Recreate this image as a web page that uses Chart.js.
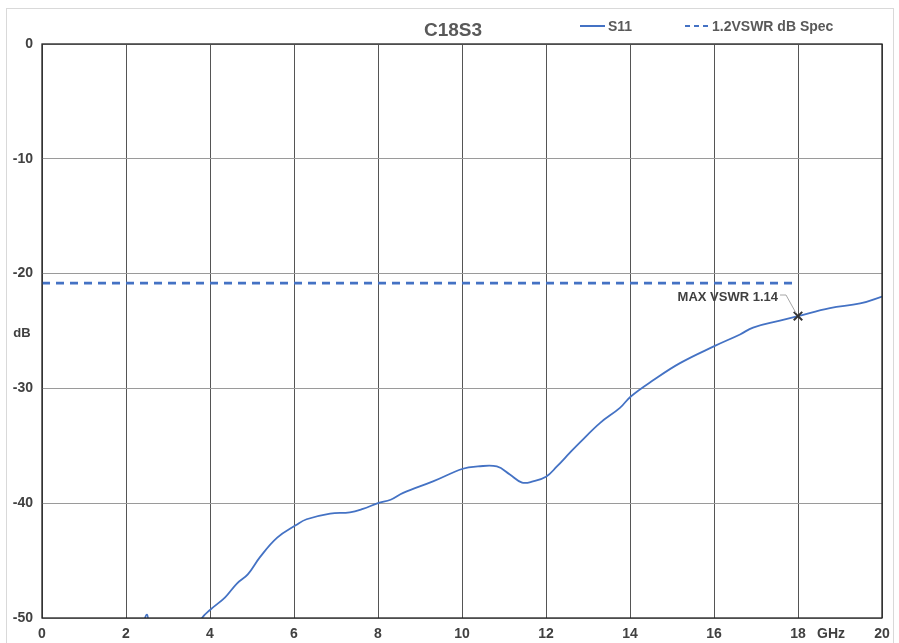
<!DOCTYPE html>
<html>
<head>
<meta charset="utf-8">
<script src="https://cdn.jsdelivr.net/npm/chart.js@4"></script>
<style>
html,body{margin:0;padding:0;background:#fff;}
#wrap{width:899px;height:643px;position:relative;}
</style>
</head>
<body>
<div id="wrap"><canvas id="c" width="899" height="643"></canvas></div>
<script>
const chartTitle = "C18S3";
const s11Freq = [2.35,2.5,2.65,3.6,3.81,4.0,4.36,4.64,4.9,5.19,5.6,6.05,6.3,6.86,7.33,7.64,8.0,8.3,8.6,9.31,10.02,10.38,10.83,11.14,11.43,11.69,12.0,12.26,12.57,12.81,13.29,13.76,14.02,14.55,15.19,16.02,16.62,16.93,17.57,18.0,18.76,19.48,20.0];
const s11Values = [-52,-49.7,-52,-51.5,-50,-49.3,-48.2,-47.0,-46.2,-44.7,-43.0,-41.9,-41.4,-40.9,-40.8,-40.5,-40.0,-39.7,-39.1,-38.1,-37.0,-36.8,-36.8,-37.5,-38.2,-38.1,-37.7,-36.8,-35.6,-34.7,-33.0,-31.7,-30.7,-29.3,-27.8,-26.3,-25.3,-24.7,-24.1,-23.7,-23.0,-22.6,-22.0];
const specFreq = [0, 18];
const specValues = [-20.83, -20.83];
const markerFreq = [18];
const markerValues = [-23.7];
const markerLabel = "MAX VSWR 1.14";
const xTicks = [0,2,4,6,8,10,12,14,16,18,20];
const yTicks = [0,-10,-20,-30,-40,-50];
const seriesNames = ["S11", "1.2VSWR dB Spec"];

const blue = "#4472C4";
const txt = "#404040";
const FONT = "'Liberation Sans', Arial, sans-serif";

const pts = (xs, ys) => xs.map((x, i) => ({x, y: ys[i]}));

const decor = {
  id: 'decor',
  beforeDraw(chart) {
    const ctx = chart.ctx;
    ctx.save();
    ctx.fillStyle = '#fff';
    ctx.fillRect(0, 0, chart.width, chart.height);
    ctx.strokeStyle = '#d9d9d9';
    ctx.lineWidth = 1;
    ctx.strokeRect(6.5, 8.5, 887, 640);
    ctx.restore();
  },
  afterDraw(chart) {
    const ctx = chart.ctx;
    const a = chart.chartArea;
    const xs = chart.scales.x, ys = chart.scales.y;
    ctx.save();
    ctx.strokeStyle = '#222';
    ctx.lineWidth = 1.3;
    ctx.strokeRect(a.left, a.top, a.right - a.left, a.bottom - a.top);
    ctx.fillStyle = '#595959';
    ctx.font = "bold 19px " + FONT;
    ctx.textAlign = 'center';
    ctx.textBaseline = 'middle';
    ctx.fillText(chartTitle, 453, 31);
    ctx.font = "bold 14px " + FONT;
    ctx.textAlign = 'left';
    ctx.strokeStyle = blue;
    ctx.lineWidth = 2;
    ctx.beginPath(); ctx.moveTo(580, 26); ctx.lineTo(605, 26); ctx.stroke();
    ctx.fillText(seriesNames[0], 608, 27);
    ctx.setLineDash([5, 4]);
    ctx.beginPath(); ctx.moveTo(685, 26); ctx.lineTo(709, 26); ctx.stroke();
    ctx.setLineDash([]);
    ctx.fillText(seriesNames[1], 712, 27);
    ctx.fillStyle = txt;
    ctx.font = "bold 13px " + FONT;
    ctx.textAlign = 'center';
    ctx.fillText("dB", 22, 333);
    ctx.font = "bold 14px " + FONT;
    ctx.fillText("GHz", 831, 634);
    const mx = xs.getPixelForValue(markerFreq[0]);
    const my = ys.getPixelForValue(markerValues[0]);
    ctx.strokeStyle = '#a6a6a6';
    ctx.lineWidth = 1;
    ctx.beginPath(); ctx.moveTo(780, 295); ctx.lineTo(786, 295); ctx.lineTo(mx - 2, my - 3); ctx.stroke();
    ctx.fillStyle = txt;
    ctx.font = "bold 13px " + FONT;
    ctx.textAlign = 'right';
    ctx.fillText(markerLabel, 778, 297);
    ctx.restore();
  }
};

new Chart(document.getElementById('c'), {
  type: 'line',
  data: {
    datasets: [
      { label: seriesNames[0], data: pts(s11Freq, s11Values), borderColor: blue, borderWidth: 1.8,
        pointRadius: 0, tension: 0.4, fill: false, order: 2 },
      { label: seriesNames[1], data: pts(specFreq, specValues), borderColor: blue, borderWidth: 2.6,
        borderDash: [8, 6], pointRadius: 0, fill: false, order: 1 },
      { label: 'marker', data: pts(markerFreq, markerValues), showLine: false, pointStyle: 'crossRot',
        pointRadius: 6, borderColor: '#333', borderWidth: 2, order: 0 }
    ]
  },
  options: {
    responsive: false,
    animation: false,
    layout: { padding: { top: 44, right: 17, left: 0, bottom: 0 } },
    plugins: { legend: { display: false }, title: { display: false }, tooltip: { enabled: false } },
    scales: {
      x: {
        type: 'linear', min: 0, max: 20,
        afterFit(s) { s.height = 25; },
        afterBuildTicks(s) { s.ticks = xTicks.map(v => ({value: v})); },
        grid: { color: '#555', lineWidth: 1, drawTicks: false },
        border: { display: false },
        ticks: { color: txt, font: { family: FONT, size: 14, weight: 'bold' }, padding: 8, maxRotation: 0 }
      },
      y: {
        min: -50, max: 0,
        afterFit(s) { s.width = 42; },
        afterBuildTicks(s) { s.ticks = yTicks.map(v => ({value: v})); },
        grid: { color: '#9a9a9a', lineWidth: 1, drawTicks: false },
        border: { display: false },
        ticks: { color: txt, font: { family: FONT, size: 14, weight: 'bold' }, padding: 9 }
      }
    }
  },
  plugins: [decor]
});
</script>
</body>
</html>
